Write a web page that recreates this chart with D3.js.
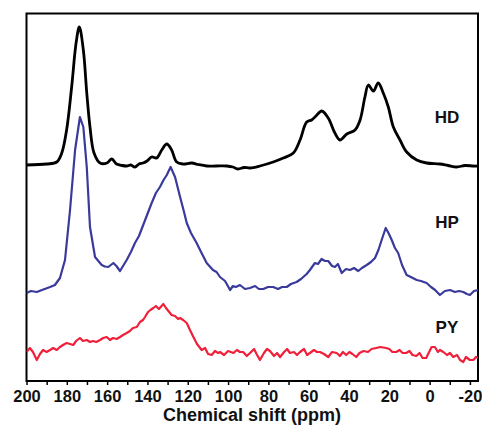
<!DOCTYPE html>
<html>
<head>
<meta charset="utf-8">
<script src="https://cdn.jsdelivr.net/npm/d3@7"></script>
<style>
  body { margin: 0; background: #fff; }
  svg { display: block; font-family: "Liberation Sans", Arial, sans-serif; }
</style>
</head>
<body>
<div id="chart"></div>
<script>
// chemical shift (ppm) and intensity (a.u., stacked as drawn)
const hdPpm = [200, 190.0, 185.0, 182.5, 180.1, 177.6, 175.4, 173.8, 171.8, 170.1, 168.5, 166.5, 163.5, 160.1, 157.7, 155.3, 152.6, 150.3, 148.2, 146.2, 144.2, 142.2, 140.2, 137.9, 135.4, 132.9, 130.4, 128.0, 125.5, 122.4, 118.0, 114.9, 110.6, 106.0, 100.7, 97.6, 95.1, 92.1, 89.1, 84.2, 77.6, 72.6, 67.6, 64.3, 61.0, 58.5, 56.4, 53.5, 50.3, 47.0, 44.5, 41.1, 37.0, 34.5, 32.1, 30.4, 27.9, 25.5, 23.0, 20.5, 18.0, 14.7, 11.4, 6.4, 1.5, -5.1, -9.1, -13.4, -17.5, -21.7, -24];
const hdInt = [21.6, 21.7, 21.9, 22.8, 25.1, 29.4, 33.8, 35.4, 33.1, 28.8, 25.4, 22.8, 21.8, 21.8, 22.2, 21.7, 21.55, 21.5, 21.6, 21.4, 21.7, 21.8, 22.0, 22.4, 22.3, 23.1, 23.7, 23.1, 21.9, 21.7, 21.8, 21.65, 21.5, 21.5, 21.5, 21.4, 21.2, 21.35, 21.3, 21.5, 21.9, 22.3, 22.8, 24.1, 25.9, 26.1, 26.5, 27.0, 26.3, 24.8, 24.1, 24.7, 25.1, 26.1, 28.4, 29.6, 29.0, 29.8, 28.8, 27.4, 25.4, 24.1, 22.9, 22.1, 21.8, 21.7, 21.55, 21.4, 21.55, 21.5, 21.5];

const hpPpm = [200, 197.8, 194.9, 192.3, 188.3, 185.9, 183.4, 180.9, 178.4, 175.9, 173.5, 171.8, 170.1, 168.5, 166.0, 162.7, 161.1, 159.4, 156.9, 155.4, 153.6, 150.3, 148.2, 146.2, 144.2, 142.1, 140.0, 137.9, 135.8, 133.8, 132.0, 130.4, 128.5, 126.3, 123.8, 122.1, 120.5, 118.4, 115.6, 113.4, 110.6, 107.5, 105.7, 104.0, 101.5, 99.0, 97.6, 96.1, 94.1, 91.6, 89.1, 86.6, 84.7, 82.5, 80.2, 77.6, 75.2, 73.2, 70.9, 68.8, 66.0, 63.8, 61.0, 59.4, 56.9, 55.4, 53.6, 51.9, 50.3, 48.4, 47.0, 45.5, 43.6, 41.5, 39.5, 37.5, 35.4, 33.6, 31.2, 29.1, 27.1, 25.4, 23.8, 21.8, 20.4, 18.8, 17.2, 15.6, 13.7, 11.4, 9.3, 6.4, 4.3, 1.5, -0.7, -2.7, -5.1, -7.6, -10.1, -12.6, -14.6, -16.7, -18.5, -20.0, -22.0, -24];
const hpInt = [8.8, 9.0, 8.9, 9.1, 9.4, 9.6, 10.3, 12.1, 17.1, 23.1, 26.4, 25.4, 21.4, 15.4, 12.4, 11.6, 11.45, 11.4, 11.8, 11.5, 11.0, 12.1, 12.9, 13.8, 14.5, 15.6, 16.7, 17.8, 18.8, 19.4, 20.1, 20.6, 21.4, 20.4, 18.4, 17.1, 15.8, 14.8, 13.8, 12.9, 11.8, 11.1, 10.9, 10.4, 10.0, 9.1, 9.5, 9.4, 9.6, 9.2, 9.3, 9.5, 9.2, 9.2, 9.4, 9.4, 9.2, 9.4, 9.4, 9.7, 9.9, 10.2, 10.7, 11.1, 11.8, 11.7, 12.2, 12.0, 12.0, 11.5, 11.4, 11.7, 10.8, 11.2, 11.1, 11.3, 11.0, 11.3, 11.6, 11.9, 12.3, 13.1, 14.1, 15.3, 14.8, 14.1, 13.3, 12.8, 11.6, 10.6, 10.4, 10.1, 10.0, 9.8, 9.4, 9.1, 8.6, 9.0, 9.1, 8.9, 9.0, 8.9, 8.7, 8.6, 9.0, 9.1];

const pyPpm = [200, 198.3, 196.8, 194.9, 193.3, 191.8, 190.0, 188.3, 186.8, 185.0, 183.4, 181.9, 180.1, 178.4, 176.8, 175.4, 173.5, 172.0, 170.1, 168.5, 167.0, 165.4, 163.5, 162.0, 160.2, 158.6, 157.1, 155.3, 153.6, 152.1, 150.3, 148.7, 147.2, 145.3, 143.7, 142.2, 141.2, 139.7, 138.5, 137.1, 135.8, 134.3, 132.1, 130.8, 129.6, 128.0, 126.3, 124.8, 123.8, 122.3, 120.5, 118.9, 117.2, 115.4, 113.1, 111.4, 109.9, 108.1, 106.5, 104.9, 104.0, 102.0, 100.0, 97.3, 95.6, 94.1, 92.5, 90.7, 89.1, 87.1, 85.6, 84.2, 82.2, 80.7, 79.2, 77.2, 75.7, 74.2, 72.2, 70.7, 69.3, 67.3, 65.8, 64.3, 62.3, 60.8, 59.4, 57.4, 55.9, 54.4, 52.4, 50.3, 48.4, 46.1, 44.5, 43.0, 41.4, 39.8, 38.3, 36.4, 34.8, 32.8, 30.6, 28.8, 26.5, 24.4, 21.6, 20.0, 18.5, 16.6, 14.9, 13.4, 11.6, 10.0, 8.5, 6.6, 5.0, 3.5, 1.7, 0.0, -1.0, -2.6, -4.1, -5.1, -6.8, -8.6, -10.1, -11.7, -13.6, -15.1, -16.7, -18.0, -20.0, -21.7, -23.0, -24];
const pyInt = [2.9, 3.3, 2.9, 2.1, 2.7, 3.1, 2.9, 3.1, 3.3, 3.1, 3.4, 3.6, 3.8, 3.7, 3.6, 4.0, 4.3, 4.0, 4.1, 3.9, 4.0, 3.9, 4.1, 4.3, 4.4, 4.1, 4.3, 4.2, 4.4, 4.6, 4.8, 5.0, 5.3, 5.4, 5.9, 6.1, 6.4, 6.9, 7.1, 7.3, 7.5, 7.2, 7.7, 7.3, 7.0, 6.6, 6.5, 6.2, 6.3, 6.1, 5.8, 5.1, 4.4, 3.7, 3.1, 3.3, 2.7, 2.6, 3.0, 2.8, 2.9, 2.6, 3.0, 2.8, 3.1, 2.9, 2.9, 2.5, 2.8, 3.2, 2.6, 2.1, 2.8, 3.2, 3.0, 2.5, 2.8, 2.4, 2.9, 3.2, 2.8, 2.9, 2.6, 2.9, 3.2, 2.6, 2.8, 3.1, 2.9, 2.9, 2.7, 2.4, 2.9, 2.8, 2.5, 2.9, 2.6, 2.9, 2.7, 2.4, 2.8, 3.0, 2.9, 3.2, 3.3, 3.4, 3.3, 3.2, 2.9, 2.9, 3.1, 2.8, 2.8, 3.0, 2.6, 2.5, 2.8, 2.3, 2.3, 3.0, 3.4, 3.4, 2.9, 3.1, 2.9, 2.6, 2.8, 2.4, 2.6, 2.1, 1.9, 2.4, 2.1, 2.1, 2.4, 2.3];

const tickValues = d3.range(200, -21, -10);
const tickLabels = ["200", "180", "160", "140", "120", "100", "80", "60", "40", "20", "0", "-20"];

const width = 482, height = 428;
const plotLeft = 26.5, plotRight = 478, plotTop = 13.5, plotBottom = 381;

const svg = d3.select("#chart")
    .append("svg")
    .attr("width", width)
    .attr("height", height);

const x = d3.scaleLinear()
    .domain([200, -24])
    .range([plotLeft, plotRight]);

const y = d3.scaleLinear()
    .domain([0, 36.75])
    .range([plotBottom, plotTop]);

// x axis: ticks every 10, labels every 20
svg.append("g")
    .attr("transform", "translate(0," + plotBottom + ")")
    .call(d3.axisBottom(x)
        .tickValues(tickValues)
        .tickSize(4)
        .tickSizeOuter(0)
        .tickFormat(d => (d % 20 === 0 ? tickLabels[(200 - d) / 20] : "")))
    .call(g => g.select(".domain").remove())
    .call(g => g.selectAll(".tick line").attr("stroke", "#000").attr("stroke-width", 1.5))
    .call(g => g.selectAll(".tick text")
        .attr("dy", 0)
        .attr("y", 20.5)
        .style("font-size", "16.5px")
        .style("font-weight", "bold")
        .attr("fill", "#111"));

// frame
svg.append("rect")
    .attr("x", plotLeft)
    .attr("y", plotTop)
    .attr("width", plotRight - plotLeft)
    .attr("height", plotBottom - plotTop)
    .attr("fill", "none")
    .attr("stroke", "#000")
    .attr("stroke-width", 2);

const series = [
    { name: "HD", ppm: hdPpm, val: hdInt, color: "#000000", w: 2.8, curve: d3.curveCatmullRom },
    { name: "HP", ppm: hpPpm, val: hpInt, color: "#3a3a9c", w: 2.2, curve: d3.curveLinear },
    { name: "PY", ppm: pyPpm, val: pyInt, color: "#f0203a", w: 2.2, curve: d3.curveLinear }
];

svg.append("clipPath").attr("id", "plotclip")
    .append("rect")
    .attr("x", plotLeft).attr("y", plotTop)
    .attr("width", plotRight - plotLeft).attr("height", plotBottom - plotTop);

series.forEach(s => {
    const pts = s.ppm.map((p, i) => [p, s.val[i]]);
    const line = d3.line()
        .x(d => x(d[0]))
        .y(d => y(d[1]))
        .curve(s.curve);
    svg.append("path")
        .datum(pts)
        .attr("clip-path", "url(#plotclip)")
        .attr("fill", "none")
        .attr("stroke", s.color)
        .attr("stroke-width", s.w)
        .attr("stroke-linejoin", "round")
        .attr("d", line);
});

// series labels
const labelPos = { HD: 25.8, HP: 15.3, PY: 4.8 };
series.forEach(s => {
    svg.append("text")
        .attr("x", x(-8.6))
        .attr("y", y(labelPos[s.name]))
        .attr("text-anchor", "middle")
        .style("font-size", "17px")
        .style("font-weight", "bold")
        .attr("fill", "#111")
        .text(s.name);
});

// x label
svg.append("text")
    .attr("x", 252)
    .attr("y", 421)
    .attr("text-anchor", "middle")
    .style("font-size", "18px")
    .style("font-weight", "bold")
    .attr("fill", "#111")
    .text("Chemical shift (ppm)");
</script>
</body>
</html>
